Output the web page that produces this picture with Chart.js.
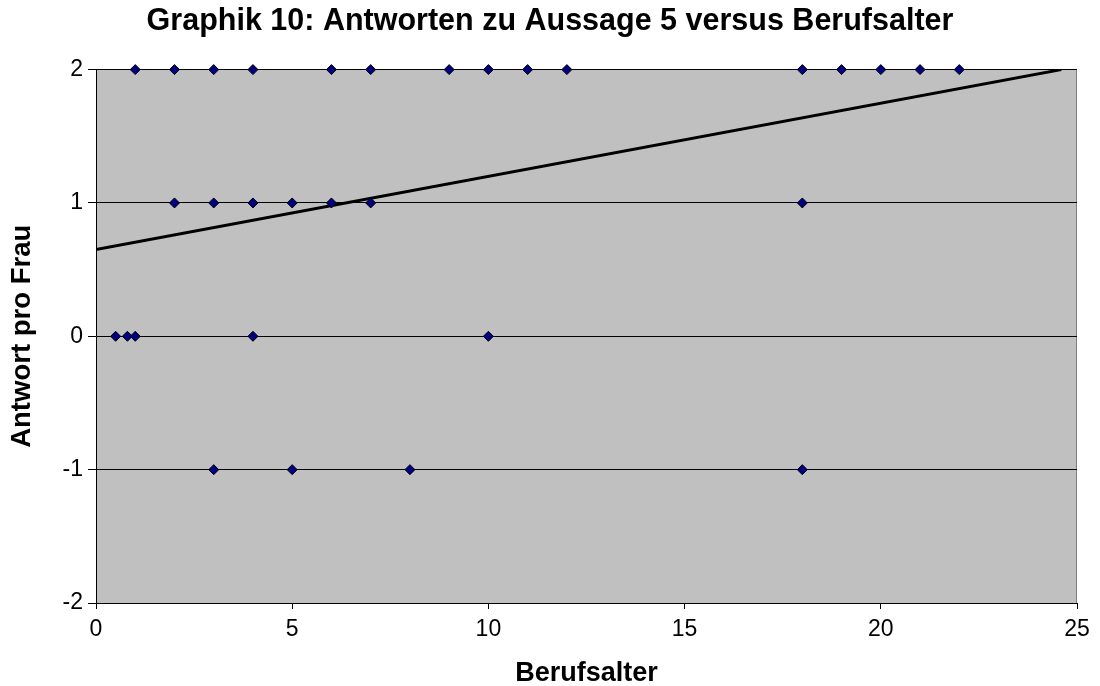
<!DOCTYPE html>
<html>
<head>
<meta charset="utf-8">
<script src="https://cdn.jsdelivr.net/npm/chart.js@4/dist/chart.umd.min.js"></script>
<style>
  html, body { margin: 0; padding: 0; background: #fff; }
  #wrap { width: 1100px; height: 686px; }
</style>
</head>
<body>
<div id="wrap"><canvas id="chart" width="1100" height="686"></canvas></div>
<script>
// Berufsalter (years) vs. answer per woman
const ageAt2  = [1, 2, 3, 4, 6, 7, 9, 10, 11, 12, 18, 19, 20, 21, 22];
const ageAt1  = [2, 3, 4, 5, 6, 7, 18];
const ageAt0  = [0.5, 0.8, 1, 4, 10];
const ageAtM1 = [3, 5, 8, 18];

// trend line
const trendX = [0, 24.6];
const trendY = [0.65, 2];

const points = [];
ageAt2.forEach(x => points.push({x, y: 2}));
ageAt1.forEach(x => points.push({x, y: 1}));
ageAt0.forEach(x => points.push({x, y: 0}));
ageAtM1.forEach(x => points.push({x, y: -1}));

const trend = trendX.map((x, i) => ({x, y: trendY[i]}));

const plotBg = {
  id: "plotBg",
  beforeDraw(chart){
    const {ctx, chartArea: a} = chart;
    ctx.save();
    ctx.fillStyle = "#c0c0c0";
    ctx.fillRect(a.left, a.top, a.right - a.left, a.bottom - a.top);
    ctx.strokeStyle = "#808080";
    ctx.lineWidth = 1;
    ctx.beginPath();
    ctx.moveTo(a.right - 0.5, a.top);
    ctx.lineTo(a.right - 0.5, a.bottom);
    ctx.stroke();
    ctx.restore();
  }
};

const font = "'Liberation Sans', Arial, sans-serif";

new Chart(document.getElementById("chart"), {
  type: "scatter",
  data: {
    datasets: [
      {
        label: "Trend",
        data: trend,
        showLine: true,
        borderColor: "#000",
        borderWidth: 3,
        pointRadius: 0,
        order: 2
      },
      {
        label: "Antwort",
        data: points,
        pointStyle: "rectRot",
        pointRadius: 5,
        backgroundColor: "#000080",
        borderColor: "#000",
        borderWidth: 1,
        clip: false,
        order: 1
      }
    ]
  },
  options: {
    responsive: false,
    animation: false,
    layout: { padding: 0 },
    plugins: {
      legend: { display: false },
      tooltip: { enabled: false },
      title: {
        display: true,
        text: "Graphik 10: Antworten zu Aussage 5 versus Berufsalter",
        color: "#000",
        font: { family: font, size: 30.5, weight: "bold" },
        padding: { top: 3, bottom: 30 }
      }
    },
    scales: {
      x: {
        type: "linear",
        min: 0, max: 25,
        ticks: { stepSize: 5, color: "#000", font: { family: font, size: 23 }, padding: 7 },
        grid: { drawOnChartArea: false, color: "#000", tickLength: 6, tickColor: "#000" },
        border: { color: "#000", width: 1 },
        title: { display: true, text: "Berufsalter", color: "#000", font: { family: font, size: 27, weight: "bold" }, padding: { top: 0, bottom: -4 } },
        afterFit(s){ s.height = 83; }
      },
      y: {
        min: -2, max: 2,
        ticks: { stepSize: 1, color: "#000", font: { family: font, size: 23 }, padding: 5 },
        grid: { color: "#000", tickLength: 8, tickColor: "#000" },
        border: { color: "#000", width: 1 },
        title: { display: true, text: "Antwort pro Frau", color: "#000", font: { family: font, size: 27.5, weight: "bold" }, padding: { top: 6, bottom: 0 } },
        afterFit(s){ s.width = 96; }
      },
      // empty right margin so the chart title centres on the whole canvas
      yRight: {
        position: "right",
        display: true,
        ticks: { display: false },
        grid: { display: false },
        border: { display: false },
        afterFit(s){ s.width = 23; }
      }
    }
  },
  plugins: [plotBg]
});
</script>
</body>
</html>
